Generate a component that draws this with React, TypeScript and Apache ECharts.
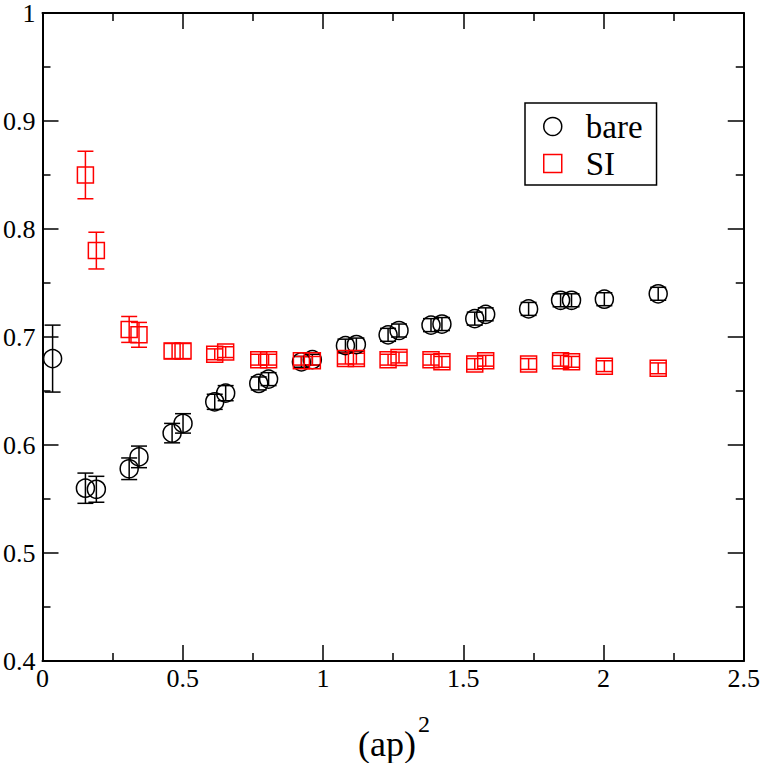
import React, { useEffect, useRef } from "react";
import * as echarts from "echarts";

const bareX = [0.036, 0.153, 0.192, 0.309, 0.344, 0.462, 0.501, 0.614, 0.653, 0.771, 0.806, 0.923, 0.962, 1.08, 1.119, 1.232, 1.271, 1.385, 1.424, 1.541, 1.58, 1.733, 1.847, 1.886, 2.003, 2.195];
const bareY = [0.68, 0.56, 0.559, 0.578, 0.589, 0.611, 0.62, 0.64, 0.648, 0.657, 0.661, 0.677, 0.679, 0.692, 0.693, 0.702, 0.706, 0.711, 0.712, 0.717, 0.721, 0.726, 0.734, 0.734, 0.735, 0.74];
const bareErr = [0.031, 0.014, 0.012, 0.01, 0.01, 0.009, 0.009, 0.007, 0.007, 0.006, 0.006, 0.005, 0.005, 0.006, 0.006, 0.006, 0.006, 0.006, 0.006, 0.006, 0.006, 0.006, 0.006, 0.006, 0.006, 0.006];

const siX = [0.153, 0.192, 0.309, 0.344, 0.462, 0.501, 0.614, 0.653, 0.771, 0.806, 0.923, 0.962, 1.08, 1.119, 1.232, 1.271, 1.385, 1.424, 1.541, 1.58, 1.733, 1.847, 1.886, 2.003, 2.195];
const siY = [0.85, 0.78, 0.707, 0.702, 0.687, 0.687, 0.684, 0.686, 0.679, 0.679, 0.678, 0.678, 0.68, 0.68, 0.679, 0.681, 0.679, 0.677, 0.675, 0.678, 0.675, 0.678, 0.677, 0.673, 0.671];
const siErr = [0.022, 0.017, 0.012, 0.0115, 0.007, 0.007, 0.005, 0.005, 0.005, 0.005, 0.004, 0.004, 0.005, 0.005, 0.005, 0.005, 0.005, 0.005, 0.005, 0.005, 0.005, 0.005, 0.005, 0.005, 0.005];

const xTicks = { min: 0, max: 2.5, interval: 0.5 };
const yTicks = { min: 0.4, max: 1, interval: 0.1 };

const FONT = "Liberation Serif, Times New Roman, serif";

function errRender(color: string) {
  return (params: any, api: any) => {
    const x = api.value(0);
    const y = api.value(1);
    const e = api.value(2);
    const top = api.coord([x, y + e]);
    const bot = api.coord([x, y - e]);
    const hw = 8;
    const style = { stroke: color, lineWidth: 1.5 };
    return {
      type: "group",
      children: [
        { type: "line", shape: { x1: top[0], y1: top[1], x2: bot[0], y2: bot[1] }, style },
        { type: "line", shape: { x1: top[0] - hw, y1: top[1], x2: top[0] + hw, y2: top[1] }, style },
        { type: "line", shape: { x1: bot[0] - hw, y1: bot[1], x2: bot[0] + hw, y2: bot[1] }, style },
      ],
    };
  };
}

export default function App() {
  const ref = useRef<HTMLDivElement>(null);
  useEffect(() => {
    if (!ref.current) return;
    const chart = echarts.init(ref.current, null, { renderer: "svg" });
    const axisLine = { show: true, onZero: false, lineStyle: { color: "#000", width: 2 } };
    const axisTick = { show: true, inside: true, length: 16, lineStyle: { color: "#000", width: 1.5 } };
    const minorTick = { show: true, splitNumber: 2, length: 8, lineStyle: { color: "#000", width: 1.5 } };
    const bareData = bareX.map((x, i) => [x, bareY[i], bareErr[i]]);
    const siData = siX.map((x, i) => [x, siY[i], siErr[i]]);
    chart.setOption({
      animation: false,
      backgroundColor: "#fff",
      textStyle: { fontFamily: FONT },
      grid: { left: 42, right: 17, top: 11, bottom: 102, containLabel: false },
      xAxis: [
        {
          type: "value", ...xTicks, position: "bottom",
          axisLine, axisTick, minorTick,
          splitLine: { show: false },
          axisLabel: { color: "#000", fontFamily: FONT, fontSize: 26, margin: 4 },
        },
        {
          type: "value", ...xTicks, position: "top",
          axisLine, axisTick, minorTick,
          splitLine: { show: false },
          axisLabel: { show: false },
        },
      ],
      yAxis: [
        {
          type: "value", ...yTicks, position: "left",
          axisLine, axisTick, minorTick,
          splitLine: { show: false },
          axisLabel: { color: "#000", fontFamily: FONT, fontSize: 26, margin: 7 },
        },
        {
          type: "value", ...yTicks, position: "right",
          axisLine, axisTick, minorTick,
          splitLine: { show: false },
          axisLabel: { show: false },
        },
      ],
      legend: {
        orient: "vertical",
        left: 525,
        top: 103,
        padding: [5, 14, 3, 18],
        borderColor: "#000",
        borderWidth: 1.5,
        borderRadius: 0,
        itemWidth: 18,
        itemHeight: 18,
        itemGap: 0,
        textStyle: { fontFamily: FONT, fontSize: 33, lineHeight: 37, color: "#000", padding: [0, 0, 0, 19] },
        data: [
          { name: "bare", icon: "circle", itemStyle: { color: "rgba(0,0,0,0)", borderColor: "#000", borderWidth: 1.5 } },
          { name: "SI", icon: "rect", itemStyle: { color: "rgba(0,0,0,0)", borderColor: "#ff0000", borderWidth: 1.5 } },
        ],
      },
      graphic: [
        { type: "text", left: 358, top: 726, style: { text: "(ap)", font: `36px ${FONT}`, fill: "#000" } },
        { type: "text", left: 418, top: 712, style: { text: "2", font: `24px ${FONT}`, fill: "#000" } },
      ],
      series: [
        {
          name: "bare-err", type: "custom", renderItem: errRender("#000"), data: bareData,
          encode: { x: 0, y: 1 }, z: 3, silent: true,
        },
        {
          name: "SI-err", type: "custom", renderItem: errRender("#ff0000"), data: siData,
          encode: { x: 0, y: 1 }, z: 3, silent: true,
        },
        {
          name: "bare", type: "scatter", symbol: "circle", symbolSize: 18,
          data: bareX.map((x, i) => [x, bareY[i]]),
          itemStyle: { color: "rgba(0,0,0,0)", borderColor: "#000", borderWidth: 1.5, opacity: 1 },
          z: 4,
        },
        {
          name: "SI", type: "scatter", symbol: "rect", symbolSize: 16,
          data: siX.map((x, i) => [x, siY[i]]),
          itemStyle: { color: "rgba(0,0,0,0)", borderColor: "#ff0000", borderWidth: 1.5, opacity: 1 },
          z: 4,
        },
      ],
    });
    return () => chart.dispose();
  }, []);
  return <div ref={ref} style={{ position: "fixed", left: 0, top: 0, width: 763, height: 763 }} />;
}
